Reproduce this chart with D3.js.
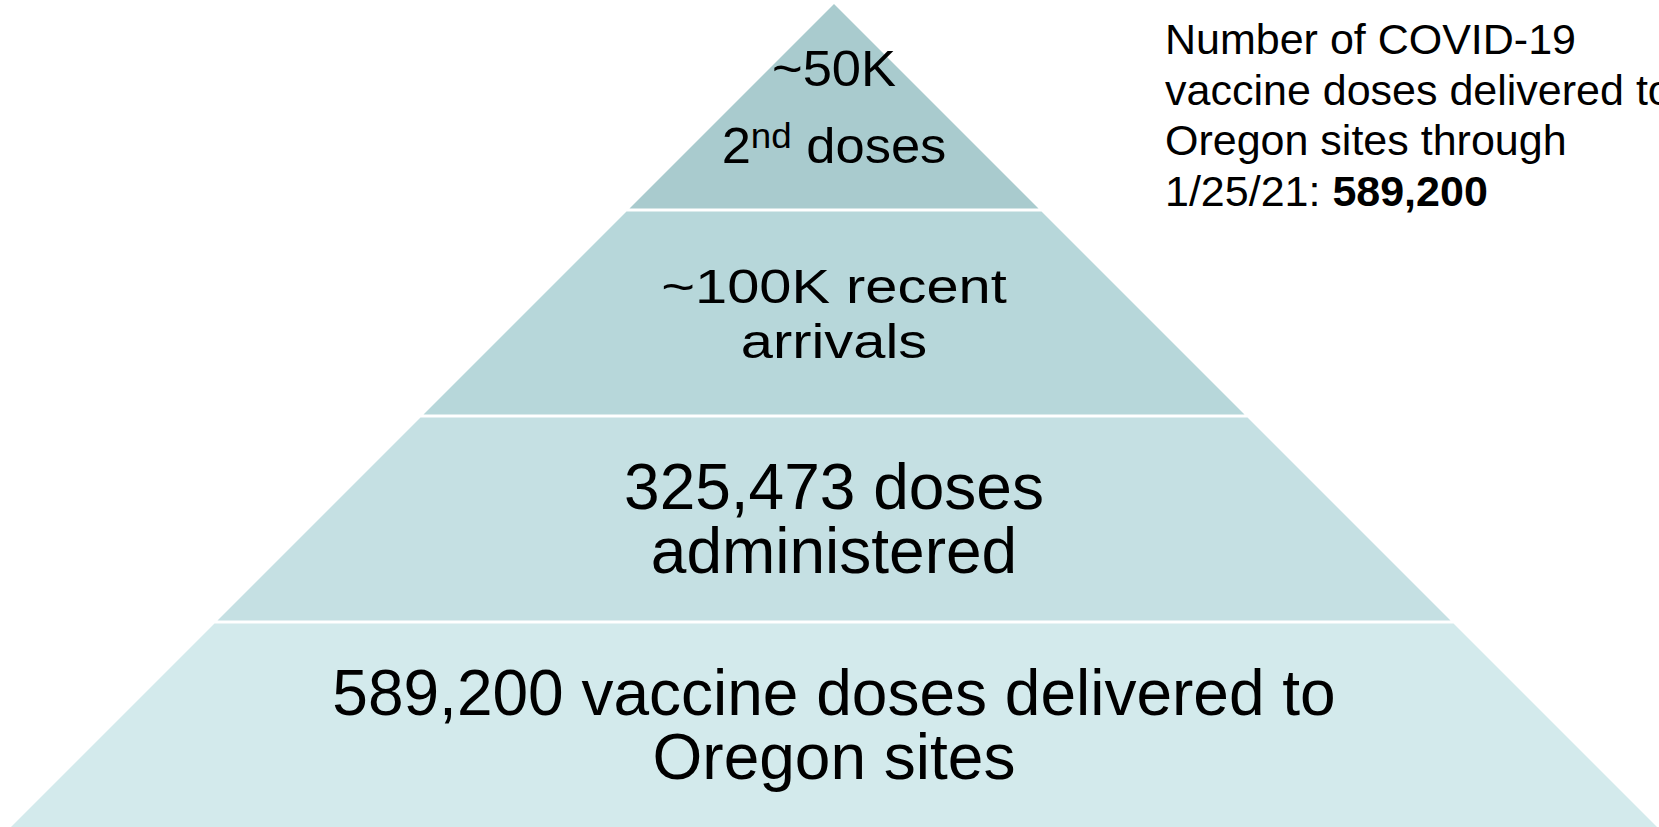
<!DOCTYPE html>
<html>
<head>
<meta charset="utf-8">
<script src="https://cdn.jsdelivr.net/npm/d3@7"></script>
<style>
  html, body { margin: 0; padding: 0; background: #ffffff; overflow: hidden; }
  svg { display: block; font-family: "Liberation Sans", Arial, sans-serif; }
</style>
</head>
<body>
<svg id="chart" width="1659" height="827"></svg>
<script>
// ---- data ----
const tierNames = ["second", "recent", "administered", "delivered"];
const tierValues = [50000, 100000, 325473, 589200];
const tierLines = [
  ["~50K", "2nd doses"],
  ["~100K recent", "arrivals"],
  ["325,473 doses", "administered"],
  ["589,200 vaccine doses delivered to", "Oregon sites"]
];
const noteLines = [
  [{t: "Number of COVID-19", b: false}],
  [{t: "vaccine doses delivered to", b: false}],
  [{t: "Oregon sites through", b: false}],
  [{t: "1/25/21: ", b: false}, {t: "589,200", b: true}]
];

// ---- styles ----
const tierColors = ["#a9cbce", "#b7d7da", "#c5e0e3", "#d3eaec"];
const tierFont = [50, 49, 64, 64];
const tierStretch = [1.05, 1.18, 1, 1];
const tierLineH = [77, 55, 64, 64];

const W = 1659, H = 827;
const apexX = 834, apexY = 4, baseY = 828;
const gap = 3;

const svg = d3.select("#chart");
svg.append("rect").attr("width", W).attr("height", H).attr("fill", "#ffffff");

const yScale = d3.scaleLinear().domain([0, tierNames.length]).range([apexY, baseY]);
const halfW = d3.scaleLinear().domain([apexY, baseY]).range([0, baseY - apexY]);

const tiers = tierNames.map((n, i) => ({
  name: n, value: tierValues[i], lines: tierLines[i], i,
  y0: yScale(i) + (i > 0 ? gap / 2 : 0),
  y1: yScale(i + 1) - (i < tierNames.length - 1 ? gap / 2 : 0)
}));

svg.selectAll("path.tier").data(tiers).enter().append("path")
  .attr("class", "tier")
  .attr("fill", (d) => tierColors[d.i])
  .attr("d", (d) => {
    const a = halfW(d.y0), b = halfW(d.y1);
    return `M${apexX - a},${d.y0}L${apexX + a},${d.y0}L${apexX + b},${d.y1}L${apexX - b},${d.y1}Z`;
  });

// labels
tiers.forEach((d) => {
  const fs = tierFont[d.i], lh = tierLineH[d.i], sx = tierStretch[d.i];
  const cy = (yScale(d.i) + yScale(d.i + 1)) / 2;
  const n = d.lines.length;
  d.lines.forEach((line, j) => {
    const by = cy + (j - (n - 1) / 2) * lh + 0.35 * fs;
    const t = svg.append("text")
      .attr("transform", `translate(${apexX},${by}) scale(${sx},1)`)
      .attr("x", 0).attr("y", 0)
      .attr("text-anchor", "middle")
      .attr("font-size", fs)
      .attr("fill", "#000");
    const m = line.match(/^(\d+)(st|nd|rd|th)(\s.*)$/);
    if (m) {
      t.append("tspan").text(m[1]);
      t.append("tspan").attr("font-size", fs * 0.7).attr("dy", -fs * 0.3).text(m[2]);
      t.append("tspan").attr("dy", fs * 0.3).text(m[3]);
    } else {
      t.text(line);
    }
  });
});

// annotation
const noteX = 1165, noteY0 = 54, noteLH = 50.6, noteFS = 43;
noteLines.forEach((segs, k) => {
  const t = svg.append("text")
    .attr("x", noteX).attr("y", noteY0 + k * noteLH)
    .attr("font-size", noteFS).attr("fill", "#000")
    .attr("xml:space", "preserve");
  segs.forEach((s) => {
    t.append("tspan").attr("font-weight", s.b ? "bold" : "normal").text(s.t);
  });
});
</script>
</body>
</html>
